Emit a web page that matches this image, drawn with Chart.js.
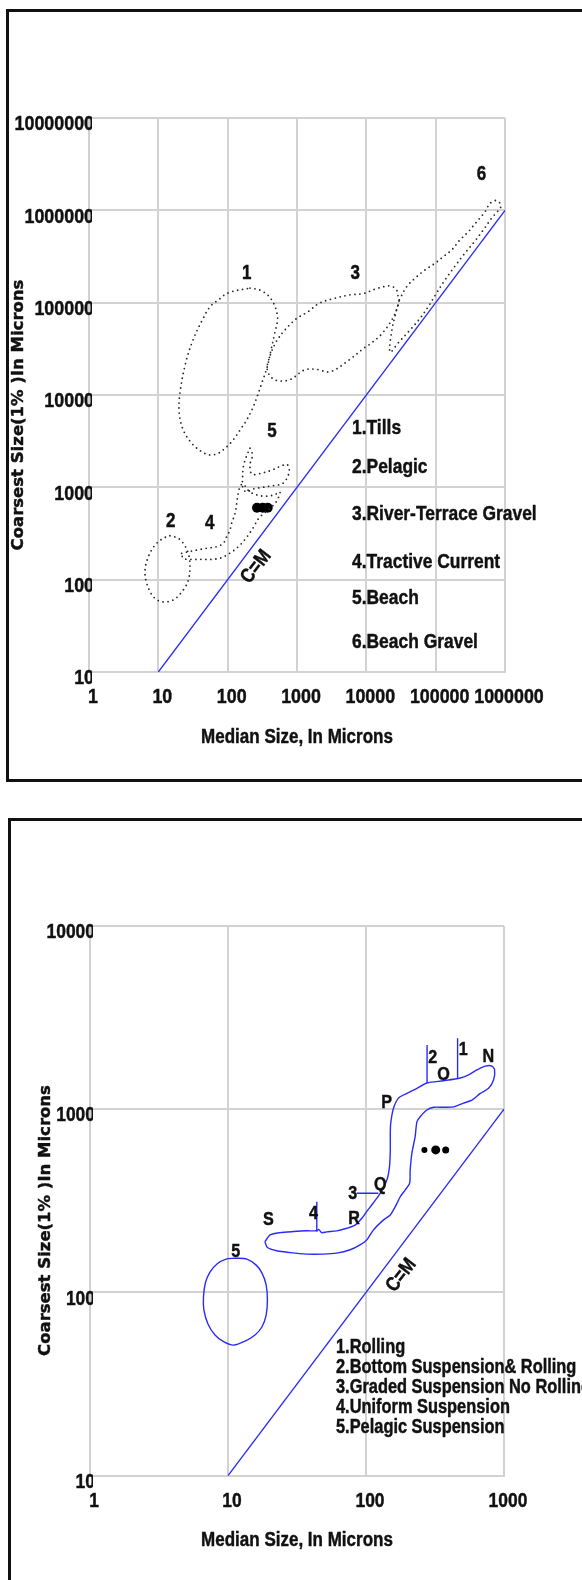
<!DOCTYPE html>
<html>
<head>
<meta charset="utf-8">
<script src="https://cdn.jsdelivr.net/npm/chart.js@4.4.1/dist/chart.umd.min.js"></script>
<style>
  html, body { margin: 0; padding: 0; background: #fff; }
  body { width: 582px; height: 1580px; position: relative; overflow: hidden; }
  .frame { position: absolute; border: 3px solid #111; box-sizing: border-box; }
  #frame1 { left: 6px; top: 9px; width: 620px; height: 773px; }
  #frame2 { left: 8px; top: 818px; width: 620px; height: 820px; }
  .panel { position: absolute; left: 0; width: 582px; height: 790px; }
  #panel1 { top: 0; }
  #panel2 { top: 790px; }
</style>
</head>
<body>
<div class="frame" id="frame1"></div>
<div class="frame" id="frame2"></div>
<div class="panel" id="panel1"><canvas id="cm1" width="582" height="790"></canvas></div>
<div class="panel" id="panel2"><canvas id="cm2" width="582" height="790"></canvas></div>
<script>
// ---------- Axis ticks ----------
const xTicks1 = [1, 10, 100, 1000, 10000, 100000, 1000000];
const xTickLabels1 = ['1', '10', '100', '1000', '10000', '100000', '1000000'];
const yTicks1 = [10, 100, 1000, 10000, 100000, 1000000, 10000000];
const yTickLabels1 = ['10', '100', '1000', '10000', '100000', '1000000', '10000000'];

const xTicks2 = [1, 10, 100, 1000];
const xTickLabels2 = ['1', '10', '100', '1000'];
const yTicks2 = [10, 100, 1000, 10000];
const yTickLabels2 = ['10', '100', '1000', '10000'];

// ---------- C = M reference line ----------
const cmLine1 = [[10, 10], [1000000, 1000000]];
const cmLine2 = [[10, 10], [1000, 1000]];

// ---------- Diagram 1: sediment fields (median M, coarsest C), microns ----------
const tills = [
  [210, 144000], [292, 137000], [382, 120000], [455, 100000], [509, 79800], [524, 64900],
  [477, 46600], [422, 30800], [373, 20300], [310, 13400], [277, 10450], [234, 7460],
  [188, 5360], [151, 4180], [120, 3260], [97, 2750], [73.3, 2340], [55.6, 2240],
  [42.3, 2430], [30.3, 3000], [22.9, 4180], [20.0, 6380], [20.5, 10500], [24.7, 22000],
  [31.6, 39400], [43.1, 64900], [55.6, 90400], [73.3, 107000], [102, 128000], [210, 144000]
];
const pelagic = [
  [14.7, 299], [19.2, 282], [22.9, 248], [27.1, 193], [28.6, 138], [27.1, 99],
  [22.9, 77.3], [16.4, 60.3], [11.2, 57.7], [8.46, 65.5], [6.79, 91.4], [6.43, 127],
  [7.17, 177], [8.95, 237], [11.8, 281], [14.7, 299]
];
const riverTerrace = [
  [608, 46600], [780, 57300], [1000, 67800], [1440, 79800], [2090, 98400], [3420, 111000],
  [5620, 121000], [9200, 126000], [13300, 140000], [20700, 152000], [24000, 149000],
  [27400, 137000], [28400, 121000], [29900, 107000], [24700, 70500], [17000, 46600],
  [11700, 36300], [9200, 32100], [5610, 23900], [3030, 17900], [1850, 19000], [1280, 18700],
  [780, 14600], [477, 14600], [373, 18700], [408, 26500], [498, 37500], [608, 46600]
];
const tractive = [
  [21.7, 193], [27.1, 201], [35.8, 209], [49.9, 219], [69.5, 228], [86.5, 248], [96.8, 292],
  [108, 345], [114, 408], [128, 523], [135, 671], [142, 861], [151, 1020], [166, 1090],
  [210, 891], [313, 805], [466, 826], [569, 891], [498, 693], [382, 569], [283, 466],
  [232, 363], [184, 282], [141, 226], [108, 194], [80.2, 172], [58.9, 166], [42.3, 166],
  [30.3, 166], [22.9, 170], [21.7, 193]
];
const beach = [
  [210, 2650], [228, 2240], [210, 1750], [224, 1390], [313, 1430], [436, 1540], [588, 1700],
  [718, 1770], [774, 1540], [718, 1260], [608, 1090], [436, 1040], [313, 996], [232, 959],
  [187, 891], [166, 984], [164, 1260], [169, 1700], [187, 2180], [210, 2650]
];
const beachGravel = [
  [29900, 107000], [38200, 149000], [50400, 184000], [70200, 226000], [97900, 267000],
  [129000, 315000], [170000, 372000], [224000, 478000], [296000, 587000], [391000, 753000],
  [515000, 966000], [608000, 1190000], [741000, 1280000], [848000, 1190000], [861000, 1060000],
  [767000, 959000], [628000, 805000], [498000, 628000], [370000, 466000], [265000, 345000],
  [190000, 249000], [136000, 176000], [101000, 124000], [77600, 89800], [58500, 66500],
  [42700, 50600], [29600, 37500], [22000, 29200], [23400, 50600], [26800, 79200], [29900, 107000]
];

// Sample cluster (median, coarsest)
const sampleM = [265, 320, 378];
const sampleC = [600, 600, 600];

// ---------- Diagram 2: transport pattern field (N-O-P-Q-R-S) and pelagic field ----------
const transportField = [
  [18.5, 189], [20.2, 206], [23.8, 212], [29.8, 215], [37.2, 217], [44.0, 217], [45.3, 221],
  [47.8, 212], [52.0, 214], [61.4, 217], [72.6, 224], [83.4, 233], [93.3, 254], [101, 276],
  [110, 300], [120, 327], [127, 348], [135, 378], [143, 420], [148, 486], [150, 600],
  [150, 740], [151, 838], [158, 1010], [172, 1150], [198, 1220], [234, 1300], [276, 1390],
  [365, 1430], [482, 1480], [554, 1540], [637, 1640], [731, 1720], [818, 1720], [855, 1640],
  [841, 1450], [773, 1300], [673, 1220], [586, 1120], [509, 1080], [431, 1030], [365, 1025],
  [309, 1025], [276, 990], [247, 910], [234, 855], [227, 708], [215, 575], [209, 466],
  [207, 394], [192, 362], [177, 333], [163, 294], [150, 265], [134, 249], [113, 219],
  [101, 193], [90.6, 182], [76.7, 171], [61.4, 164], [49.1, 162], [37.2, 162], [28.2, 165],
  [22.5, 169], [19.3, 176], [18.5, 189]
];
const pelagicField = [
  [11.2, 154], [13.7, 152], [16.0, 141], [17.6, 128], [18.9, 110], [19.3, 91.0], [18.9, 75.3],
  [17.6, 64.8], [15.7, 58.6], [13.3, 54.3], [11.0, 51.6], [9.35, 53.7], [8.05, 58.6],
  [7.16, 67.3], [6.69, 80.2], [6.64, 94.4], [6.86, 113], [7.40, 129], [8.32, 143], [9.67, 152],
  [11.2, 154]
];
// Division marks between transport segments
const mark1 = [[461, 2440], [461, 1460]];
const mark2 = [[277, 2240], [277, 1390]];
const mark3 = [[85.8, 348], [123, 348]];
const mark4 = [[44.0, 313], [44.0, 215]];

// ---------- Text ----------
const legend1 = ['1.Tills', '2.Pelagic', '3.River-Terrace Gravel', '4.Tractive Current', '5.Beach', '6.Beach Gravel'];
const legend2 = ['1.Rolling', '2.Bottom Suspension& Rolling', '3.Graded Suspension No Rolling', '4.Uniform Suspension', '5.Pelagic Suspension'];
const fieldTags1 = [
  { text: '1', m: 189, c: 205000 }, { text: '3', m: 6920, c: 205000 },
  { text: '6', m: 457000, c: 2450000 }, { text: '5', m: 436, c: 4010 },
  { text: '2', m: 15.1, c: 425 }, { text: '4', m: 55.1, c: 408 }
];
const fieldTags2 = [
  { text: '2', m: 305, c: 1910 }, { text: 'O', m: 364, c: 1550 }, { text: '1', m: 506, c: 2100 },
  { text: 'N', m: 771, c: 1940 }, { text: 'P', m: 141, c: 1080 }, { text: 'Q', m: 127, c: 386 },
  { text: '3', m: 80.3, c: 344 }, { text: 'R', m: 82.0, c: 254 }, { text: '4', m: 41.6, c: 270 },
  { text: 'S', m: 19.6, c: 249 }, { text: '5', m: 11.4, c: 167 }
];

const SANS = '"Liberation Sans", Arial, sans-serif';
const WIDE = '"DejaVu Sans", Verdana, sans-serif';
const INK = '#111111';
const BLUE = '#2a2aff';
const GRID = '#d2d2d2';
const NARROW_SCALE = 0.85;   // horizontal squeeze that gives the narrow lettering
const TEXT_WEIGHT = 0.45;    // extra outline that darkens the lettering

// Canvas text is drawn horizontally squeezed around its anchor point,
// so alignment (left / center / right) is preserved.
function narrowText(canvas) {
  const ctx = canvas.getContext('2d');
  const fill = ctx.fillText.bind(ctx);
  const stroke = ctx.strokeText.bind(ctx);
  ctx.textScaleX = NARROW_SCALE;
  ctx.fillText = function (text, x, y, maxWidth) {
    const k = this.textScaleX;
    this.save();
    this.translate(x, y);
    this.scale(k, 1);
    const mw = maxWidth === undefined ? undefined : maxWidth / k;
    if (mw === undefined) fill(text, 0, 0); else fill(text, 0, 0, mw);
    this.lineWidth = TEXT_WEIGHT;
    this.lineJoin = 'round';
    this.strokeStyle = this.fillStyle;
    if (mw === undefined) stroke(text, 0, 0); else stroke(text, 0, 0, mw);
    this.restore();
  };
}

const pts = arr => arr.map(([m, c]) => ({ x: m, y: c }));

function dotted(data) {
  return {
    data: pts(data), showLine: true, fill: false, tension: 0.35,
    borderColor: '#262626', borderWidth: 1.8, borderDash: [0, 5], borderCapStyle: 'round',
    pointRadius: 0
  };
}
function solid(data, width, tension) {
  return {
    data: pts(data), showLine: true, fill: false, tension: tension,
    borderColor: BLUE, borderWidth: width, pointRadius: 0
  };
}

// Annotation text: field tags in data units, legend and y title on the canvas
function annotations(spec) {
  return {
    id: 'annotations',
    afterDatasetsDraw(chart) {
      const { ctx, scales: { x, y } } = chart;
      ctx.save();
      ctx.fillStyle = INK;
      ctx.textBaseline = 'middle';
      ctx.textAlign = 'center';
      ctx.font = 'bold ' + spec.tagSize + 'px ' + SANS;
      spec.tags.forEach(t => ctx.fillText(t.text, x.getPixelForValue(t.m), y.getPixelForValue(t.c)));

      // C=M caption along the reference line
      ctx.save();
      ctx.translate(x.getPixelForValue(spec.cm.m), y.getPixelForValue(spec.cm.c));
      ctx.rotate(-52 * Math.PI / 180);
      ctx.font = 'bold 20px ' + SANS;
      ctx.fillText('C=M', 0, 0);
      ctx.restore();

      // Legend
      ctx.textAlign = 'left';
      ctx.font = 'bold ' + spec.legendSize + 'px ' + SANS;
      spec.legend.forEach((s, i) => ctx.fillText(s, spec.legendX, spec.legendY[i]));

      // Vertical axis title, in the wide face
      ctx.save();
      ctx.textScaleX = 1;
      ctx.translate(spec.yTitleX, spec.yTitleY);
      ctx.rotate(-Math.PI / 2);
      ctx.textAlign = 'center';
      ctx.font = 'bold 16.5px ' + WIDE;
      ctx.fillText('Coarsest Size(1% )In Microns', 0, 0);
      ctx.textScaleX = NARROW_SCALE;
      ctx.restore();
      ctx.restore();
    }
  };
}

function makeChart(id, p) {
  const canvas = document.getElementById(id);
  narrowText(canvas);
  const tickFont = { family: SANS, size: p.tickSize, weight: 'bold' };
  return new Chart(canvas, {
    type: 'scatter',
    data: { datasets: p.datasets },
    plugins: [annotations(p.notes)],
    options: {
      responsive: false, animation: false, events: [],
      layout: { padding: { left: 0, right: 582 - p.area.right, top: p.area.top, bottom: 790 - p.area.bottom - 80 } },
      plugins: { legend: { display: false }, tooltip: { enabled: false } },
      scales: {
        x: {
          type: 'logarithmic', min: p.xTicks[0], max: p.xTicks[p.xTicks.length - 1],
          afterBuildTicks: s => { s.ticks = p.xTicks.map(v => ({ value: v })); },
          afterFit: s => { s.height = 80; },
          grid: { color: GRID, lineWidth: 2, drawTicks: false },
          border: { color: GRID, width: 2 },
          ticks: {
            callback: (v, i) => p.xLabels[i], font: tickFont, color: INK,
            padding: 13, labelOffset: 4, maxRotation: 0, minRotation: 0, autoSkip: false
          },
          title: {
            display: true, text: 'Median Size, In Microns', color: INK,
            font: { family: SANS, size: 20, weight: 'bold' }, padding: { top: 0, bottom: p.titlePad }
          }
        },
        y: {
          type: 'logarithmic', min: p.yTicks[0], max: p.yTicks[p.yTicks.length - 1],
          afterBuildTicks: s => { s.ticks = p.yTicks.map(v => ({ value: v })); },
          afterFit: s => {
            s.width = p.area.left;
            // labels may run a few pixels past the plot edge before being cut off
            s._computeLabelArea = function () {
              return { top: 0, left: 0, bottom: this.chart.height, right: this.right + 3 };
            };
          },
          grid: { color: GRID, lineWidth: 2, drawTicks: false },
          border: { color: GRID, width: 2 },
          ticks: {
            callback: (v, i) => p.yLabels[i], font: tickFont, color: INK,
            padding: -5, labelOffset: 6.5, autoSkip: false
          }
        }
      }
    }
  });
}

makeChart('cm1', {
  area: { left: 89, right: 505, top: 118, bottom: 672 }, tickSize: 21,
  xTicks: xTicks1, xLabels: xTickLabels1, yTicks: yTicks1, yLabels: yTickLabels1, titlePad: 3,
  datasets: [
    solid(cmLine1, 1.3, 0),
    dotted(tills), dotted(pelagic), dotted(riverTerrace), dotted(tractive), dotted(beach), dotted(beachGravel),
    { data: sampleM.map((m, i) => ({ x: m, y: sampleC[i] })), pointRadius: 5, pointBackgroundColor: '#000', pointBorderWidth: 0 }
  ],
  notes: {
    tags: fieldTags1, tagSize: 20, cm: { m: 257, c: 138 },
    legend: legend1, legendSize: 20.5, legendX: 352, legendY: [428, 467, 514, 562, 598, 642],
    yTitleX: 19, yTitleY: 415
  }
});

makeChart('cm2', {
  area: { left: 90, right: 504, top: 136, bottom: 685.7 }, tickSize: 20.5,
  xTicks: xTicks2, xLabels: xTickLabels2, yTicks: yTicks2, yLabels: yTickLabels2, titlePad: 3.7,
  datasets: [
    solid(cmLine2, 1.3, 0),
    solid(transportField, 1.4, 0.25), solid(pelagicField, 1.4, 0.3),
    solid(mark1, 1.4, 0), solid(mark2, 1.4, 0), solid(mark3, 1.4, 0), solid(mark4, 1.4, 0),
    { data: sampleM.map((m, i) => ({ x: m, y: sampleC[i] })), pointRadius: [3, 4.5, 3.5], pointBackgroundColor: '#000', pointBorderWidth: 0 }
  ],
  notes: {
    tags: fieldTags2, tagSize: 19, cm: { m: 180, c: 124 },
    legend: legend2, legendSize: 19.3, legendX: 336, legendY: [558, 578, 598, 618, 638],
    yTitleX: 45.5, yTitleY: 430.5
  }
});
</script>
</body>
</html>
